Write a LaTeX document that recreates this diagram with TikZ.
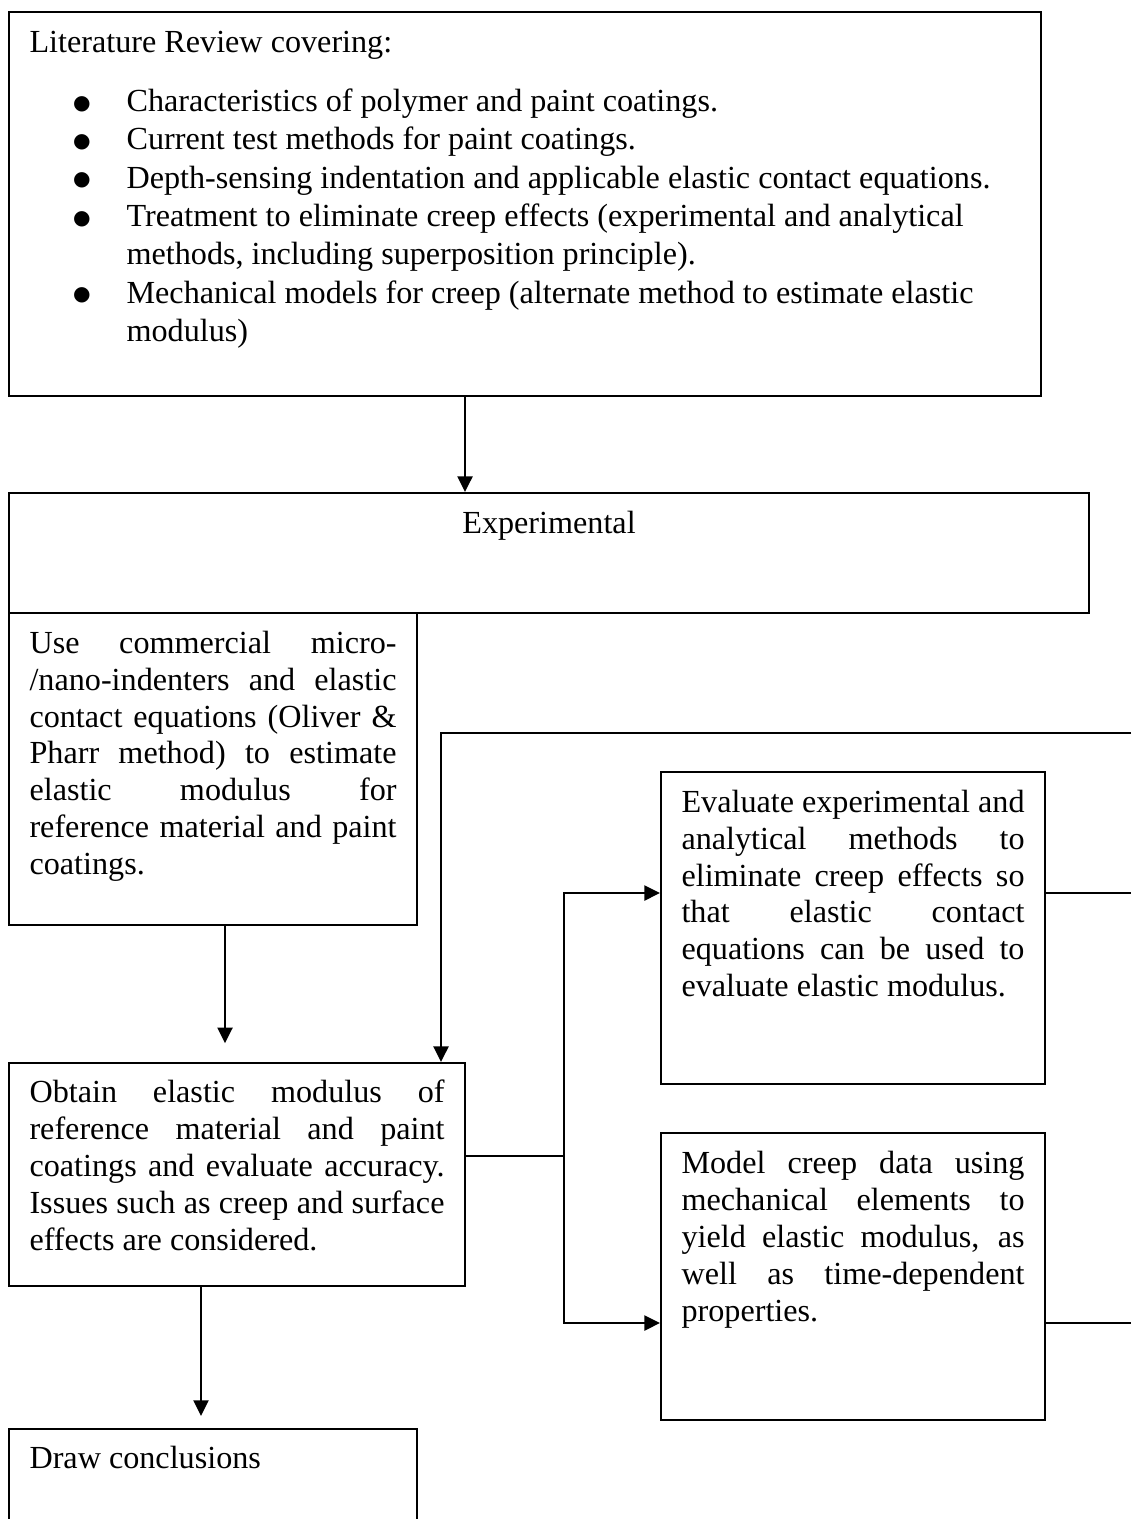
\documentclass[tikz,border=0pt]{standalone}
\usepackage{fontspec}
\setmainfont{Liberation Serif}
\newfontfamily\dejavu{DejaVu Sans}
\usetikzlibrary{arrows.meta,fit}
\newcommand{\bigbul}{\raisebox{0.8pt}{\dejavu\fontsize{7.5}{7.5}\selectfont ●}}
\begin{document}
\begin{tikzpicture}[x=0.373pt,y=-0.373pt,
  box/.style={draw,line width=0.75pt,inner sep=0pt},
  conn/.style={line width=0.75pt},
  tip/.tip={Triangle[length=5.8pt,width=5.6pt]},
  arr/.style={conn,-tip},
  txt/.style={inner sep=0pt,anchor=base west,font=\fontsize{12}{13.8}\selectfont},
  jtxt/.style={txt,align=justify,execute at begin node={\tolerance=10000 \hyphenpenalty=10000 \emergencystretch=20pt }},
]
\useasboundingbox (0,0) rectangle (1131,1519);
\clip (0,0) rectangle (1131,1519);
% boxes
\node[box,fit={(9,12) (1041,396)}] (lit) {};
\node[box,fit={(9,493) (1089,613)}] (exp) {};
\node[box,fit={(9,613) (417,925)}] (use) {};
\node[box,fit={(9,1063) (465,1286)}] (obt) {};
\node[box,fit={(661,772) (1045,1084)}] (eva) {};
\node[box,fit={(661,1133) (1045,1420)}] (mod) {};
\node[box,fit={(9,1429) (417,1560)}] (drw) {};
% texts
\node[txt,text width={981*0.373pt},align=left,font=\fontsize{12}{14.3}\selectfont] (littext) at (29,53) {\spaceskip=0pt \xspaceskip=0pt Literature Review covering:\par\vspace{7.5pt}%
\begin{list}{\bigbul}{\setlength\leftmargin{36.2pt}\settowidth\labelwidth{\bigbul}\setlength\labelsep{13.4pt}\setlength\itemsep{0pt}\setlength\parsep{0pt}\setlength\topsep{0pt}\setlength\partopsep{0pt}}
\item Characteristics of polymer and paint coatings.
\item Current test methods for paint coatings.
\item Depth-sensing indentation and applicable elastic contact equations.
\item Treatment to eliminate creep effects (experimental and analytical\newline methods, including superposition principle).
\item Mechanical models for creep (alternate method to estimate elastic\newline modulus)
\end{list}};
\node[txt,anchor=base] (exptext) at (549,533) {Experimental};
\node[jtxt,text width={367*0.373pt}] (usetext) at (29,653) {Use commercial micro-\linebreak/nano-indenters and elastic\linebreak contact equations (Oliver \&\linebreak Pharr method) to estimate\linebreak elastic modulus for\linebreak reference material and paint\linebreak coatings.};
\node[jtxt,text width={415*0.373pt}] (obttext) at (29,1102) {Obtain elastic modulus of\linebreak reference material and paint\linebreak coatings and evaluate accuracy.\linebreak Issues such as creep and surface\linebreak effects are considered.};
\node[jtxt,text width={343*0.373pt}] (evatext) at (681,812) {Evaluate experimental and\linebreak analytical methods to\linebreak eliminate creep effects so\linebreak that elastic contact\linebreak equations can be used to\linebreak evaluate elastic modulus.};
\node[jtxt,text width={343*0.373pt}] (modtext) at (681,1173) {Model creep data using\linebreak mechanical elements to\linebreak yield elastic modulus, as\linebreak well as time-dependent\linebreak properties.};
\node[txt] (drwtext) at (29,1468) {Draw conclusions};
% connector coordinates
\coordinate (a1) at (465,0);
\coordinate (a2) at (225,0);
\coordinate (a3) at (201,0);
\coordinate (j1) at (564,893);
\coordinate (j2) at (564,1156);
\coordinate (j3) at (564,1323);
\coordinate (e1) at (1131,893);
\coordinate (e2) at (1131,1323);
\coordinate (e3) at (1131,733);
\coordinate (k) at (441,733);
% connectors
\draw[arr] (a1 |- lit.south) -- (a1 |- exp.north);
\draw[arr,shorten >=7pt] (a2 |- use.south) -- (a2 |- obt.north);
\draw[arr,shorten >=4.5pt] (a3 |- obt.south) -- (a3 |- drw.north);
\draw[conn] (obt.east |- j2) -- (j2);
\draw[conn,tip-tip] (eva.west |- j1) -- (j1) -- (j3) -- (mod.west |- j3);
\draw[conn] (eva.east |- e1) -- (e1);
\draw[conn] (mod.east |- e2) -- (e2);
\draw[arr] (e3) -- (k) -- (k |- obt.north);
\end{tikzpicture}
\end{document}
